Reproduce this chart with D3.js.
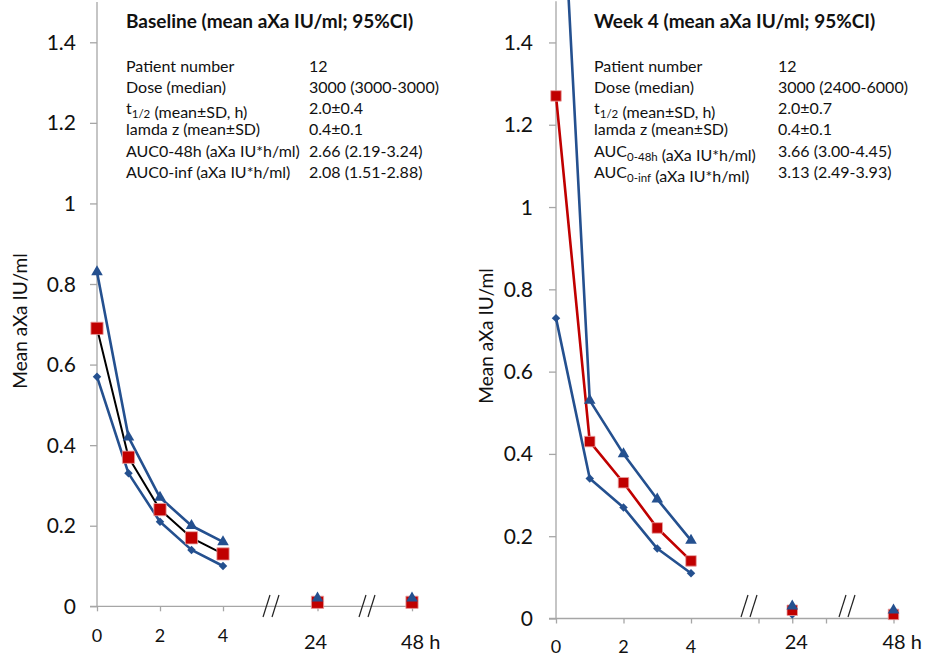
<!DOCTYPE html>
<meta charset="utf-8">
<style>
body { margin: 0; background: #fff; }
svg { font-family: Lato, "Open Sans", sans-serif; }
</style>
<svg width="925" height="656"></svg>
<script src="https://d3js.org/d3.v7.min.js"></script>
<script>
// category slots of the x axis (gaps keep the broken axis spacing)
var categories = ["0", "1", "2", "3", "4", "gap1", "gap2", "24", "gap3", "gap4", "48"]
var sampleTimes = ["0", "1", "2", "3", "4", "24", "48"]
var yTicks = [0, 0.2, 0.4, 0.6, 0.8, 1, 1.2, 1.4]
var earlyLabels = ["0", "2", "4"]
var lateLabels = ["24", "48 h"]

var baseLower = [0.57, 0.33, 0.21, 0.14, 0.10, 0.005, 0.005]
var baseMean  = [0.69, 0.37, 0.24, 0.17, 0.13, 0.01, 0.01]
var baseUpper = [0.83, 0.42, 0.27, 0.20, 0.16, 0.02, 0.02]

var wk4Lower = [0.73, 0.34, 0.27, 0.17, 0.11, 0.01, 0.01]
var wk4Mean  = [1.27, 0.43, 0.33, 0.22, 0.14, 0.02, 0.01]
var wk4Upper = [2.09, 0.53, 0.40, 0.29, 0.19, 0.03, 0.02]

var baseTitle = "Baseline (mean aXa IU/ml; 95%CI)"
var baseInfoLabels = ["Patient number", "Dose (median)", "t_{1/2} (mean±SD, h)", "lamda z (mean±SD)",
  "AUC0-48h (aXa IU*h/ml)", "AUC0-inf (aXa IU*h/ml)"]
var baseInfoValues = ["12", "3000 (3000-3000)", "2.0±0.4", "0.4±0.1", "2.66 (2.19-3.24)", "2.08 (1.51-2.88)"]

var wk4Title = "Week 4 (mean aXa IU/ml; 95%CI)"
var wk4InfoLabels = ["Patient number", "Dose (median)", "t_{1/2} (mean±SD, h)", "lamda z (mean±SD)",
  "AUC_{0-48h} (aXa IU*h/ml)", "AUC_{0-inf} (aXa IU*h/ml)"]
var wk4InfoValues = ["12", "3000 (2400-6000)", "2.0±0.7", "0.4±0.1", "3.66 (3.00-4.45)", "3.13 (2.49-3.93)"]

var blue = '#24508f'
var red = '#c00000'
var axisGrey = '#a6a6a6'

const svg = d3.select('svg')

function addRich(sel, str) {
  // "_{...}" becomes a subscript tspan
  var parts = str.split(/(_\{[^}]*\})/)
  parts.forEach(function (p) {
    if (!p) return
    if (p[0] === '_') {
      sel.append('tspan').attr('font-size', 11.5).attr('dy', 4).text(p.slice(2, -1))
      sel.append('tspan').attr('dy', -4).text('')
    } else {
      sel.append('tspan').text(p)
    }
  })
}

function drawPanel(p) {
  var g = svg.append('g')
  var x = d3.scalePoint().domain(categories).range([p.x0, p.x10])
  var y = d3.scaleLinear().domain([0, 1.5]).range([p.yZero, p.yTop])

  var clipId = 'clip' + p.id
  svg.append('clipPath').attr('id', clipId)
    .append('rect').attr('x', p.x0 - 20).attr('y', 0).attr('width', p.x10 - p.x0 + 40).attr('height', p.yZero + 20)

  // y axis
  var yAxis = d3.axisLeft(y).tickValues(yTicks).tickSize(7).tickFormat('')
  var ya = g.append('g').attr('transform', 'translate(' + p.x0 + ',0)').call(yAxis)
  ya.selectAll('path, line').attr('stroke', axisGrey).attr('stroke-width', 1.3)
  ya.select('.domain').attr('d', 'M0,' + y(1.5) + 'V' + y(0))

  g.selectAll('.ylab').data(yTicks).enter().append('text')
    .attr('x', p.x0 - p.labGap)
    .attr('y', d => y(d))
    .attr('dy', '0.36em')
    .attr('text-anchor', 'end')
    .attr('font-size', 21)
    .attr('fill', '#111')
    .text(d => d === 0 || d === 1 ? d : d3.format('.1f')(d))

  // x axis
  var xAxis = d3.axisBottom(x).tickValues(p.tickCats).tickSize(5).tickFormat('')
  var xa = g.append('g').attr('transform', 'translate(0,' + y(0) + ')').call(xAxis)
  xa.selectAll('path, line').attr('stroke', axisGrey).attr('stroke-width', 1.3)
  xa.select('.domain').attr('d', 'M' + (p.x0 - 7) + ',0H' + (p.x10 + 2))

  g.selectAll('.xlab').data(earlyLabels).enter().append('text')
    .attr('x', d => x(d))
    .attr('y', p.earlyBase)
    .attr('text-anchor', 'middle')
    .attr('font-size', 18)
    .attr('fill', '#111')
    .text(d => d)
  g.append('text').attr('x', x('24') + p.lateShift).attr('y', 649)
    .attr('text-anchor', 'middle').attr('font-size', 20).attr('fill', '#111').text(lateLabels[0])
  g.append('text').attr('x', x('48') - 11).attr('y', 649)
    .attr('font-size', 20).attr('fill', '#111').text(lateLabels[1])

  // axis breaks
  p.breaks.forEach(function (b) {
    ;[0, 9].forEach(function (off) {
      g.append('line')
        .attr('x1', b + off).attr('y1', 595)
        .attr('x2', b + off - 7).attr('y2', 617)
        .attr('stroke', '#222').attr('stroke-width', 1.2)
    })
  })

  // y axis title
  g.append('text')
    .attr('transform', 'translate(' + p.titleX + ',' + p.titleY + ') rotate(-90)')
    .attr('text-anchor', 'middle')
    .attr('font-size', 19)
    .attr('fill', '#111')
    .text('Mean aXa IU/ml')

  // info box
  g.append('text').attr('x', p.boxX).attr('y', 28)
    .attr('font-weight', 'bold').attr('font-size', 19).attr('fill', '#111').text(p.title)
  p.infoLabels.forEach(function (lab, i) {
    var t = g.append('text').attr('x', p.boxX).attr('y', 71.5 + i * 21.3)
      .attr('font-size', 16).attr('fill', '#111')
    addRich(t, lab)
    g.append('text').attr('x', p.valX).attr('y', 71.5 + i * 21.3)
      .attr('font-size', 16).attr('fill', '#111').text(p.infoValues[i])
  })

  // lines over the first hours only
  var line = d3.line().x(d => x(d.t)).y(d => y(d.v))
  var series = [
    { vals: p.lower, colour: blue, symbol: 'diamond' },
    { vals: p.mean, colour: p.meanLine, symbol: 'square' },
    { vals: p.upper, colour: blue, symbol: 'triangle' }
  ]
  var plot = g.append('g').attr('clip-path', 'url(#' + clipId + ')')
  series.forEach(function (s) {
    var pts = s.vals.map((v, i) => ({ t: sampleTimes[i], v: v }))
    plot.append('path')
      .attr('d', line(pts.slice(0, 5)))
      .attr('fill', 'none')
      .attr('stroke', s.colour)
      .attr('stroke-width', s.symbol === 'square' ? p.meanWidth : 2.6)
      .attr('stroke-linejoin', 'round')
    s.pts = pts
  })
  series.forEach(function (s) {
    var sym, rot = 0, fill = blue, stroke = 'none'
    if (s.symbol === 'diamond') { sym = d3.symbol(d3.symbolSquare, 36); rot = 45 }
    if (s.symbol === 'square') { sym = d3.symbol(d3.symbolSquare, p.squareSize); fill = red; stroke = '#e9a0a0' }
    if (s.symbol === 'triangle') { sym = d3.symbol(d3.symbolTriangle, 58) }
    plot.selectAll('.m' + s.symbol).data(s.pts).enter().append('path')
      .attr('d', sym)
      .attr('transform', d => 'translate(' + x(d.t) + ',' + y(d.v) + ') rotate(' + rot + ')')
      .attr('fill', fill)
      .attr('stroke', stroke)
      .attr('stroke-width', 0.8)
  })
}

drawPanel({
  id: 'base', x0: 97, x10: 412, yZero: 606.3, yTop: 2, labGap: 21,
  tickCats: ['0', '2', '4', '24', '48'], earlyBase: 642, lateShift: -2,
  breaks: [270, 366], titleX: 27, titleY: 321,
  boxX: 126, valX: 309, title: baseTitle, infoLabels: baseInfoLabels, infoValues: baseInfoValues,
  lower: baseLower, mean: baseMean, upper: baseUpper, meanLine: '#000', meanWidth: 2, squareSize: 150
})

drawPanel({
  id: 'wk4', x0: 556, x10: 893.5, yZero: 618.5, yTop: 1.3, labGap: 23,
  tickCats: ['0', '2', '4', 'gap2', '24', 'gap3', '48'], earlyBase: 653, lateShift: 4,
  breaks: [748, 846], titleX: 493, titleY: 336,
  boxX: 594, valX: 778, title: wk4Title, infoLabels: wk4InfoLabels, infoValues: wk4InfoValues,
  lower: wk4Lower, mean: wk4Mean, upper: wk4Upper, meanLine: red, meanWidth: 2.6, squareSize: 110
})
</script>
